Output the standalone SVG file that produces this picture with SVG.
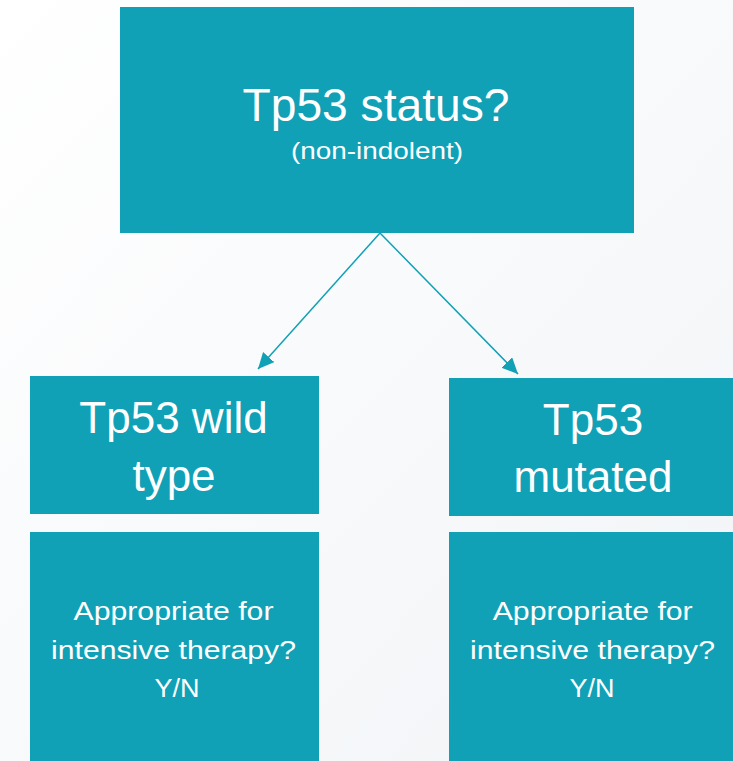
<svg xmlns="http://www.w3.org/2000/svg" width="733" height="761" viewBox="0 0 733 761">
<style>
.box{fill:#10a1b7}
.t{fill:#ffffff;font-family:"Liberation Sans",Arial,sans-serif;text-anchor:middle}
.conn{stroke:#10a1b7;stroke-width:1.5;fill:none}
</style>
<defs>
<linearGradient id="bg" x1="0" y1="0" x2="1" y2="1">
<stop offset="0" stop-color="#ffffff"/>
<stop offset="1" stop-color="#f1f4f7"/>
</linearGradient>
<marker id="ah" markerUnits="userSpaceOnUse" markerWidth="18" markerHeight="16" refX="16" refY="7.5" orient="auto">
<path d="M0,0 L16,7.5 L0,15 Z" fill="#10a1b7"/>
</marker>
</defs>
<rect x="0" y="0" width="733" height="761" fill="url(#bg)"/>
<g id="connectors">
<line class="conn" x1="380" y1="233" x2="258" y2="369" marker-end="url(#ah)"/>
<line class="conn" x1="380" y1="233" x2="518" y2="374" marker-end="url(#ah)"/>
</g>
<g id="n-status">
<rect class="box" x="120" y="7" width="514" height="226"/>
<text class="t" x="376" y="121" font-size="46" textLength="267" lengthAdjust="spacingAndGlyphs">Tp53 status?</text>
<text class="t" x="377" y="159" font-size="24" textLength="172" lengthAdjust="spacingAndGlyphs">(non-indolent)</text>
</g>
<g id="n-wild">
<rect class="box" x="30" y="376" width="289" height="138"/>
<text class="t" x="173.5" y="433" font-size="44">Tp53 wild</text>
<text class="t" x="174" y="491" font-size="44">type</text>
</g>
<g id="n-mut">
<rect class="box" x="449" y="378" width="290" height="138"/>
<text class="t" x="593" y="435" font-size="44">Tp53</text>
<text class="t" x="593" y="492" font-size="44">mutated</text>
</g>
<g id="n-int-wild">
<rect class="box" x="30" y="532" width="289" height="235"/>
<text class="t" x="173.5" y="620" font-size="26" textLength="200" lengthAdjust="spacingAndGlyphs">Appropriate for</text>
<text class="t" x="173.5" y="659" font-size="26" textLength="245" lengthAdjust="spacingAndGlyphs">intensive therapy?</text>
<text class="t" x="177" y="697" font-size="26" textLength="45" lengthAdjust="spacingAndGlyphs">Y/N</text>
</g>
<g id="n-int-mut">
<rect class="box" x="449" y="532" width="290" height="235"/>
<text class="t" x="592.7" y="620" font-size="26" textLength="200" lengthAdjust="spacingAndGlyphs">Appropriate for</text>
<text class="t" x="592.5" y="659" font-size="26" textLength="245" lengthAdjust="spacingAndGlyphs">intensive therapy?</text>
<text class="t" x="592" y="697" font-size="26" textLength="45" lengthAdjust="spacingAndGlyphs">Y/N</text>
</g>
</svg>
